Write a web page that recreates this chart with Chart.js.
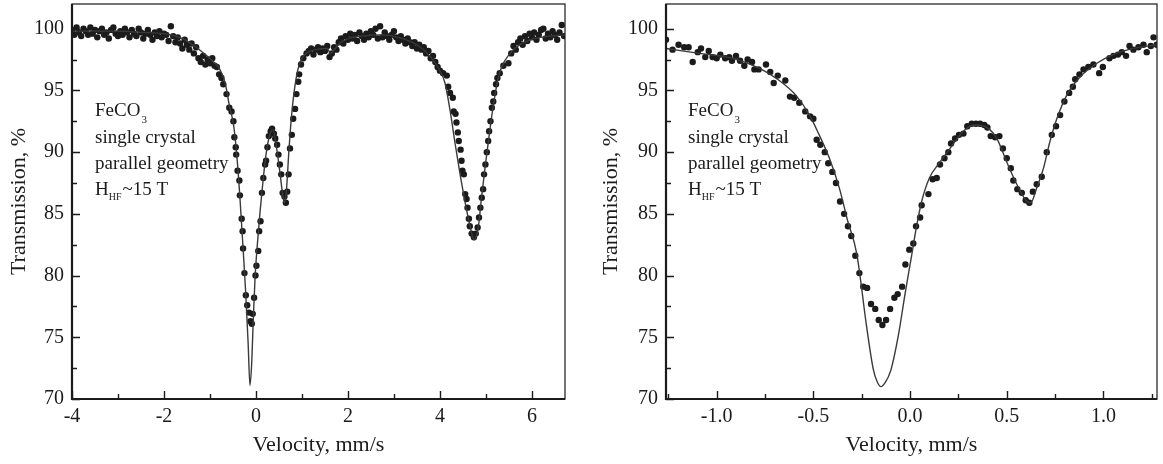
<!DOCTYPE html>
<html>
<head>
<meta charset="utf-8">
<script src="https://cdn.jsdelivr.net/npm/chart.js@4.4.1/dist/chart.umd.min.js"></script>
<style>
  html, body { margin: 0; padding: 0; background: #fff; }
  #wrap { position: relative; width: 1163px; height: 464px; overflow: hidden; }
  #leftChart { position: absolute; left: 0; top: 0; }
  #rightChart { position: absolute; left: 592px; top: 0; }
</style>
</head>
<body>
<div id="wrap">
  <canvas id="leftChart" width="580" height="464"></canvas>
  <canvas id="rightChart" width="571" height="464"></canvas>
</div>
<script>
// ---- left panel: wide velocity range ----
const leftVel = [
  -4.00,-3.95,-3.90,-3.85,-3.80,-3.75,-3.70,-3.65,-3.60,-3.55,
  -3.50,-3.45,-3.40,-3.35,-3.30,-3.25,-3.20,-3.15,-3.10,-3.05,
  -3.00,-2.95,-2.90,-2.85,-2.80,-2.75,-2.70,-2.65,-2.60,-2.55,
  -2.50,-2.45,-2.40,-2.35,-2.30,-2.25,-2.20,-2.15,-2.10,-2.05,
  -2.00,-1.95,-1.90,-1.85,-1.80,-1.75,-1.70,-1.65,-1.60,-1.55,
  -1.50,-1.45,-1.40,-1.35,-1.30,-1.25,-1.20,-1.15,-1.10,-1.05,
  -1.00,-0.95,-0.90,-0.85,-0.80,-0.75,
  -0.71,-0.64,-0.58,-0.53,-0.49,-0.47,-0.44,-0.43,-0.40,-0.36,
  -0.35,-0.31,-0.29,-0.28,-0.25,-0.22,-0.19,-0.15,-0.12,-0.09,
  -0.07,-0.04,-0.01,0.01,0.05,0.07,0.10,0.13,0.16,0.20,
  0.22,0.25,0.28,0.32,0.35,0.39,0.42,0.46,0.49,0.52,
  0.55,0.58,0.62,0.65,0.68,0.71,0.74,0.78,0.81,0.85,
  0.88,0.92,0.94,0.98,1.03,1.10,
  1.15,1.20,1.25,1.30,1.35,1.40,1.45,1.50,1.55,1.60,
  1.65,1.70,1.75,1.80,1.85,1.90,1.95,2.00,2.05,2.10,
  2.15,2.20,2.25,2.30,2.35,2.40,2.45,2.50,2.55,2.60,
  2.65,2.70,2.75,2.80,2.85,2.90,2.95,3.00,3.05,3.10,
  3.15,3.20,3.25,3.30,3.35,3.40,3.45,3.50,3.55,3.60,
  3.65,3.70,3.75,3.80,3.85,3.90,3.95,
  4.00,4.07,4.15,4.18,4.22,4.28,4.30,4.34,4.36,4.39,
  4.41,4.45,4.47,4.49,4.52,4.55,4.58,4.60,4.63,4.65,
  4.69,4.74,4.78,4.82,4.85,4.88,4.91,4.94,4.96,4.99,
  5.02,5.05,5.07,5.10,5.13,5.16,5.18,5.22,5.25,5.30,
  5.38,5.49,
  5.55,5.60,5.65,5.70,5.75,5.80,5.85,5.90,5.95,6.00,
  6.05,6.10,6.15,6.20,6.25,6.30,6.35,6.40,6.45,6.50,
  6.55,6.60,6.65,6.70
];
const leftTrans = [
  99.9,99.5,100.1,99.7,99.4,100.0,99.8,99.5,100.1,99.6,
  99.9,99.3,99.8,100.0,99.5,99.7,99.2,99.9,100.1,99.6,
  99.4,99.8,99.5,100.0,99.7,99.3,99.9,99.6,99.4,100.0,
  99.7,99.2,99.6,99.9,99.5,99.1,99.7,99.4,99.8,99.3,
  99.6,99.5,99.0,100.2,99.4,98.9,99.3,98.8,98.4,99.1,
  98.7,98.3,98.8,98.0,98.5,97.6,97.3,97.8,97.1,97.5,
  97.2,97.6,97.0,96.9,96.3,96.0,
  95.5,94.7,93.6,93.3,92.5,91.2,90.4,89.8,88.5,87.7,
  86.5,84.6,83.6,82.2,80.2,78.4,77.6,77.0,76.3,76.1,
  76.9,78.2,80.0,80.8,82.0,83.6,84.4,86.7,87.9,89.0,
  89.3,90.4,91.3,91.7,91.9,91.5,91.1,90.6,89.8,89.0,
  88.2,86.7,86.4,85.9,86.8,88.2,90.3,91.4,92.7,93.5,
  94.7,95.7,96.3,97.1,97.6,98.0,
  98.2,98.4,97.9,98.3,98.5,98.1,98.4,98.2,98.6,97.7,
  98.0,98.5,98.3,98.9,99.2,98.8,99.4,99.1,99.6,99.2,
  99.5,99.0,99.7,99.4,99.1,99.6,99.3,99.8,99.5,100.0,
  99.2,100.2,99.3,99.7,99.4,99.1,99.5,99.8,99.3,99.0,
  99.4,99.1,98.8,99.2,98.9,98.6,98.9,98.4,98.7,98.3,
  98.5,98.0,98.2,97.6,97.8,97.3,96.9,
  96.6,96.4,96.2,95.3,94.8,94.4,93.3,93.1,92.4,91.6,
  90.9,90.2,89.3,88.5,88.2,86.6,86.2,85.5,84.6,84.0,
  83.4,83.1,83.4,83.9,84.7,85.5,86.3,87.0,88.2,89.0,
  90.0,90.9,91.7,92.5,93.6,94.1,94.8,95.5,96.0,96.4,
  97.0,97.2,
  98.0,98.6,98.3,98.9,99.2,98.7,99.4,99.0,99.6,99.3,
  99.7,99.1,99.5,99.9,100.0,99.2,99.6,99.3,99.8,99.5,
  99.1,99.7,100.3,99.4
];
const leftFitVel = [-4.0,-3.0,-2.5,-2.0,-1.6,-1.3,-1.1,-0.95,-0.8,-0.67,
  -0.57,-0.49,-0.42,-0.35,-0.28,-0.22,-0.17,-0.13,-0.09,-0.06,
  -0.02,0.03,0.09,0.16,0.23,0.33,0.37,0.43,0.52,0.58,
  0.62,0.66,0.72,0.78,0.87,0.96,1.09,1.3,1.55,1.62,
  1.7,1.85,2.0,2.3,2.7,3.1,3.5,3.8,4.0,4.11,
  4.22,4.33,4.43,4.54,4.65,4.74,4.83,4.91,5.0,5.09,
  5.17,5.28,5.41,5.63,5.96,6.39,6.72];
const leftFitTrans = [99.8,99.8,99.7,99.6,99.2,98.5,97.9,97.4,96.8,95.6,
  93.6,92.3,89.9,86.4,82.2,78.4,74.5,71.1,73.1,76.3,
  79.8,82.5,85.2,87.9,90.1,91.7,91.8,90.8,88.4,86.6,
  85.9,86.8,90.3,93.2,95.9,97.3,98.0,98.3,98.4,98.0,
  98.3,98.9,99.2,99.4,99.5,99.3,98.7,97.7,96.6,95.6,
  93.4,90.7,88.4,86.1,84.1,82.9,83.8,86.5,89.3,91.9,
  94.0,96.2,97.4,98.4,99.1,99.4,99.5];

// ---- right panel: central lines, narrow range ----
const rightVel = [
  -1.262,-1.228,-1.197,-1.168,-1.145,-1.124,-1.098,-1.081,-1.059,-1.041,
  -1.021,-1.000,-0.981,-0.956,-0.935,-0.921,-0.900,-0.879,-0.857,-0.840,
  -0.817,-0.805,-0.783,-0.745,-0.723,-0.705,-0.684,-0.645,-0.621,-0.599,
  -0.573,-0.542,-0.517,-0.500,-0.483,-0.464,-0.441,-0.423,-0.402,-0.383,
  -0.362,-0.341,-0.321,-0.304,-0.283,-0.262,-0.242,-0.222,-0.202,-0.180,
  -0.162,-0.143,-0.124,-0.103,-0.081,-0.064,-0.041,-0.024,-0.004,0.017,
  0.031,0.052,0.060,0.095,0.117,0.138,0.155,0.178,0.198,0.212,
  0.233,0.253,0.276,0.296,0.319,0.341,0.362,0.384,0.400,0.417,
  0.440,0.462,0.480,0.500,0.521,0.534,0.555,0.578,0.598,0.617,
  0.635,0.655,0.681,0.707,0.733,0.755,0.776,0.798,0.823,0.842,
  0.854,0.876,0.897,0.922,0.948,0.978,0.997,1.031,1.052,1.075,
  1.095,1.117,1.135,1.155,1.181,1.207,1.224,1.245,1.259,1.276
];
const rightTrans = [
  99.1,98.3,98.7,98.5,98.5,97.3,98.1,98.4,97.7,98.2,
  97.7,97.6,97.9,97.6,97.7,97.4,97.8,97.4,97.0,97.5,
  97.3,96.7,96.7,97.1,96.5,95.6,96.2,95.8,94.5,94.4,
  94.0,93.3,92.9,92.7,91.0,90.6,90.0,89.1,88.4,87.5,
  86.0,85.0,84.0,83.2,81.6,80.2,79.1,79.0,77.7,77.3,
  76.4,76.0,76.4,77.3,78.2,78.5,79.1,80.9,82.1,82.6,
  84.0,84.7,85.7,86.6,87.8,87.9,89.0,89.5,90.0,90.7,
  91.1,91.4,91.5,92.1,92.3,92.3,92.3,92.2,92.0,91.3,
  91.2,91.3,90.3,89.5,88.7,87.7,87.0,86.7,86.1,85.9,
  86.8,87.4,88.0,90.0,91.4,92.1,93.0,94.1,94.8,95.3,
  95.9,96.3,96.7,96.9,97.1,96.4,96.9,97.6,97.8,97.9,
  98.1,97.8,98.6,98.3,98.5,98.7,98.1,98.6,99.3,98.7
];
const rightFitVel = [-1.262,-1.09,-0.917,-0.78,-0.676,-0.59,-0.52,-0.47,-0.417,-0.366,
  -0.322,-0.276,-0.224,-0.19,-0.17,-0.15,-0.13,-0.10,-0.06,-0.026,
  0.009,0.035,0.06,0.10,0.155,0.207,0.259,0.31,0.345,0.397,
  0.449,0.50,0.552,0.604,0.624,0.655,0.69,0.724,0.759,0.81,
  0.88,0.966,1.05,1.155,1.277];
const rightFitTrans = [98.4,98.0,97.6,96.8,95.8,94.6,93.0,91.4,89.5,87.1,
  84.4,81.8,75.8,72.4,71.4,71.0,71.3,72.3,75.2,78.5,
  81.7,84.1,86.0,87.9,89.2,90.3,91.4,92.1,92.2,92.0,
  91.1,89.2,87.4,86.0,85.9,87.1,88.7,90.9,92.7,94.6,
  96.1,97.2,97.9,98.4,98.7];

const labelLines = ['FeCO', 'single crystal', 'parallel geometry', 'H'];

const SERIF = '"Liberation Serif", "Times New Roman", serif';
const INK = '#1b1b1b';

function toXY(xs, ys) {
  return xs.map((x, i) => ({ x: x, y: ys[i] }));
}

// inward tick marks + box frame
const frameTicks = {
  id: 'frameTicks',
  afterDatasetsDraw(chart, args, opts) {
    const ctx = chart.ctx;
    const a = chart.chartArea;
    const sx = chart.scales.x, sy = chart.scales.y;
    ctx.save();
    ctx.strokeStyle = INK;
    ctx.lineWidth = 1.4;
    ctx.beginPath();
    sx.ticks.forEach(t => {
      const p = Math.round(sx.getPixelForValue(t.value)) + 0.5;
      ctx.moveTo(p, a.bottom); ctx.lineTo(p, a.bottom - 8);
    });
    opts.xMinor.forEach(v => {
      const p = Math.round(sx.getPixelForValue(v)) + 0.5;
      ctx.moveTo(p, a.bottom); ctx.lineTo(p, a.bottom - 5);
    });
    sy.ticks.forEach(t => {
      const p = Math.round(sy.getPixelForValue(t.value)) + 0.5;
      ctx.moveTo(a.left, p); ctx.lineTo(a.left + 8, p);
    });
    opts.yMinor.forEach(v => {
      const p = Math.round(sy.getPixelForValue(v)) + 0.5;
      ctx.moveTo(a.left, p); ctx.lineTo(a.left + 5, p);
    });
    ctx.stroke();
    ctx.lineWidth = 1.3;
    ctx.strokeStyle = '#2a2a2a';
    ctx.strokeRect(a.left, a.top, a.right - a.left, a.bottom - a.top);
    ctx.lineWidth = 2.2;
    ctx.strokeStyle = INK;
    ctx.beginPath();
    ctx.moveTo(a.left, a.top); ctx.lineTo(a.left, a.bottom); ctx.lineTo(a.right, a.bottom);
    ctx.stroke();
    ctx.restore();
  }
};

// sample description text block
const sampleNote = {
  id: 'sampleNote',
  afterDraw(chart, args, opts) {
    const ctx = chart.ctx;
    const x = opts.x;
    ctx.save();
    ctx.fillStyle = INK;
    ctx.textBaseline = 'alphabetic';
    ctx.font = '19px ' + SERIF;
    ctx.fillText(labelLines[0], x, 116);
    let w = ctx.measureText(labelLines[0]).width;
    ctx.font = '11px ' + SERIF;
    ctx.fillText('3', x + w + 1, 123);
    ctx.font = '19px ' + SERIF;
    ctx.fillText(labelLines[1], x, 143);
    ctx.fillText(labelLines[2], x, 169);
    ctx.fillText(labelLines[3], x, 195);
    w = ctx.measureText(labelLines[3]).width;
    ctx.font = '10px ' + SERIF;
    ctx.fillText('HF', x + w, 200);
    const w2 = ctx.measureText('HF').width;
    ctx.font = '19px ' + SERIF;
    ctx.fillText('~15 T', x + w + w2 + 1, 195);
    ctx.restore();
  }
};

function makeChart(id, cfg) {
  return new Chart(document.getElementById(id), {
    type: 'scatter',
    data: {
      datasets: [
        {
          data: toXY(cfg.fitX, cfg.fitY),
          showLine: true,
          pointRadius: 0,
          borderColor: '#3a3a3a',
          borderWidth: 1.4,
          cubicInterpolationMode: 'monotone',
          fill: false
        },
        {
          data: toXY(cfg.ptX, cfg.ptY),
          pointRadius: 3.2,
          pointBackgroundColor: INK,
          pointBorderWidth: 0,
          showLine: false
        }
      ]
    },
    options: {
      responsive: false,
      animation: false,
      devicePixelRatio: 1,
      layout: { padding: { top: 2, right: cfg.padRight, left: 0, bottom: 0 } },
      plugins: {
        legend: { display: false },
        tooltip: { enabled: false },
        frameTicks: { xMinor: cfg.xMinor, yMinor: [72.5, 77.5, 82.5, 87.5, 92.5, 97.5] },
        sampleNote: { x: cfg.noteX }
      },
      scales: {
        x: {
          type: 'linear',
          min: cfg.xMin, max: cfg.xMax,
          afterFit(s) { s.height = 65; s.paddingLeft = 0; s.paddingRight = 0; },
          grid: { display: false, drawTicks: false },
          border: { display: false },
          ticks: {
            stepSize: cfg.xStep,
            includeBounds: false,
            padding: 6,
            color: INK,
            font: { family: SERIF, size: 20 },
            callback: cfg.xFmt
          },
          title: {
            display: true,
            text: 'Velocity, mm/s',
            color: INK,
            font: { family: SERIF, size: 22 },
            padding: { top: 0, bottom: 6 }
          }
        },
        y: {
          type: 'linear',
          min: 70, max: 102,
          afterFit(s) { s.width = cfg.yWidth; s.paddingTop = 0; s.paddingBottom = 0; },
          grid: { display: false, drawTicks: false },
          border: { display: false },
          ticks: {
            stepSize: 5,
            includeBounds: false,
            padding: 8,
            color: INK,
            font: { family: SERIF, size: 20 }
          },
          title: {
            display: true,
            text: 'Transmission, %',
            color: INK,
            font: { family: SERIF, size: 22 },
            padding: { top: 6, bottom: 0 }
          }
        }
      }
    },
    plugins: [frameTicks, sampleNote]
  });
}

makeChart('leftChart', {
  ptX: leftVel, ptY: leftTrans, fitX: leftFitVel, fitY: leftFitTrans,
  xMin: -4, xMax: 6.72, xStep: 2, xMinor: [-3, -1, 1, 3, 5],
  xFmt: v => String(v),
  yWidth: 72, padRight: 15, noteX: 95
});

makeChart('rightChart', {
  ptX: rightVel, ptY: rightTrans, fitX: rightFitVel, fitY: rightFitTrans,
  xMin: -1.262, xMax: 1.277, xStep: 0.5, xMinor: [-1.25, -0.75, -0.25, 0.25, 0.75, 1.25],
  xFmt: v => Number(v).toFixed(1),
  yWidth: 74, padRight: 6, noteX: 96
});
</script>
</body>
</html>
